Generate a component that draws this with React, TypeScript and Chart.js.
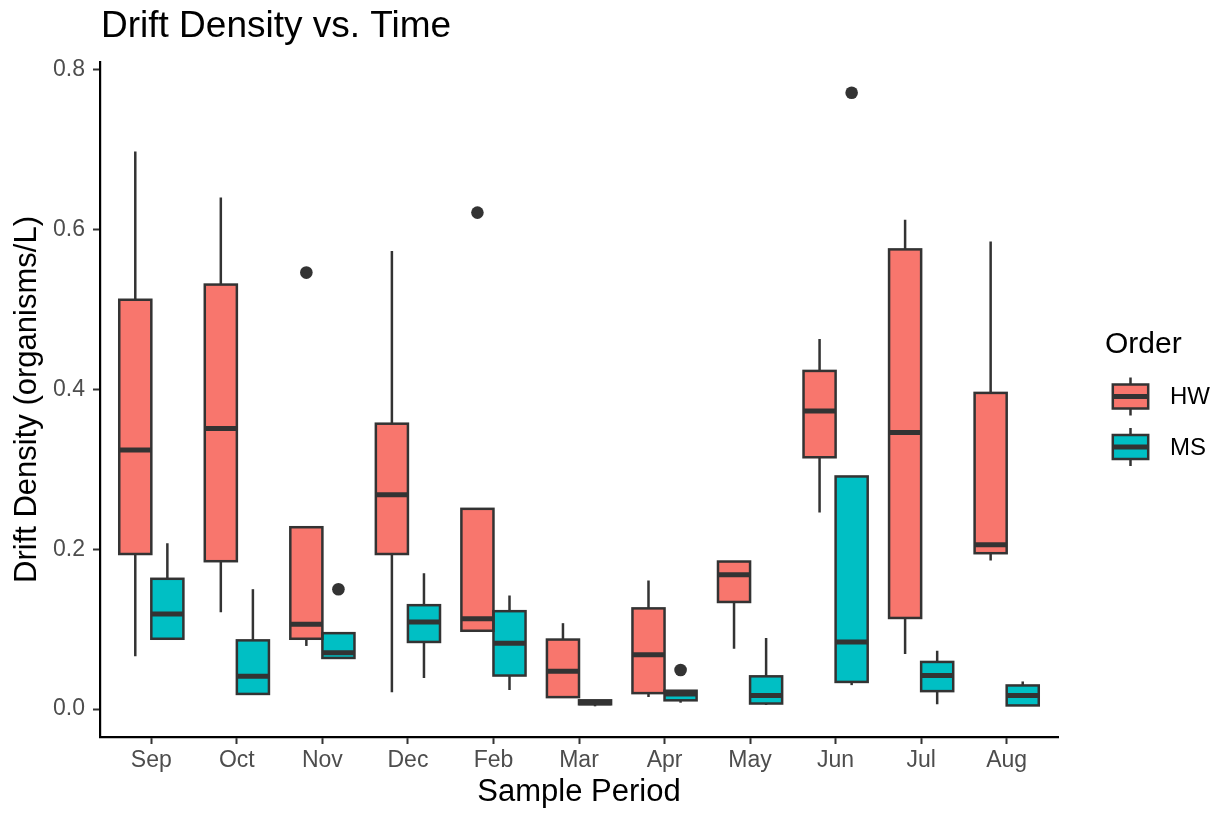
import React, { useEffect, useRef } from 'react';
import { Chart, registerables } from 'chart.js';

Chart.register(...registerables);

// ---------------- data ----------------
const MONTHS = ['Sep', 'Oct', 'Nov', 'Dec', 'Feb', 'Mar', 'Apr', 'May', 'Jun', 'Jul', 'Aug'];

const HW_MIN = [0.066, 0.121, 0.079, 0.021, 0.098, 0.015, 0.015, 0.0755, 0.246, 0.069, 0.186];
const HW_Q1 = [0.194, 0.185, 0.088, 0.194, 0.098, 0.015, 0.02, 0.134, 0.315, 0.114, 0.195];
const HW_MED = [0.324, 0.351, 0.106, 0.268, 0.113, 0.0475, 0.068, 0.168, 0.373, 0.346, 0.2055];
const HW_Q3 = [0.512, 0.531, 0.2275, 0.357, 0.2505, 0.087, 0.126, 0.1846, 0.423, 0.575, 0.3955];
const HW_MAX = [0.6975, 0.64, 0.2275, 0.573, 0.2505, 0.1075, 0.161, 0.1846, 0.463, 0.612, 0.585];
const HW_OUT: number[][] = [[], [], [0.546], [], [0.621], [], [], [], [], [], []];

const MS_MIN = [0.087, 0.019, 0.064, 0.039, 0.024, 0.0035, 0.008, 0.005, 0.03, 0.006, 0.0046];
const MS_Q1 = [0.088, 0.019, 0.064, 0.084, 0.042, 0.006, 0.011, 0.007, 0.034, 0.0225, 0.0046];
const MS_MED = [0.119, 0.041, 0.0705, 0.109, 0.0825, 0.008, 0.019, 0.017, 0.084, 0.042, 0.017];
const MS_Q3 = [0.163, 0.086, 0.095, 0.13, 0.1225, 0.011, 0.023, 0.041, 0.291, 0.059, 0.0296];
const MS_MAX = [0.2075, 0.15, 0.095, 0.17, 0.142, 0.011, 0.023, 0.089, 0.291, 0.073, 0.0346];
const MS_OUT: number[][] = [[], [], [0.15], [], [], [], [0.049], [], [0.771], [], []];

const Y_TICKS = [0, 0.2, 0.4, 0.6, 0.8];

const SERIES_LABELS = ['HW', 'MS'];
const SERIES_COLORS = ['#F8766D', '#00BFC4'];

// ---------------- styling ----------------
const FONT = "'Liberation Sans', Arial, Helvetica, sans-serif";
const LINE = '#333333';
const BOX_LW = 2.5;
const MED_LW = 5;
const OUT_R = 6.3;
const X_EXPAND = 0.6;
const Y_EXPAND = 0.05;

const SERIES = [
  { label: SERIES_LABELS[0], color: SERIES_COLORS[0], min: HW_MIN, q1: HW_Q1, med: HW_MED, q3: HW_Q3, max: HW_MAX, out: HW_OUT },
  { label: SERIES_LABELS[1], color: SERIES_COLORS[1], min: MS_MIN, q1: MS_Q1, med: MS_MED, q3: MS_Q3, max: MS_MAX, out: MS_OUT },
];

const allValues = SERIES.flatMap((s) => [...s.min, ...s.max, ...s.out.flat()]);
const LO = Math.min(...allValues);
const HI = Math.max(...allValues);
const Y_MIN = LO - (HI - LO) * Y_EXPAND;
const Y_MAX = HI + (HI - LO) * Y_EXPAND;

const boxPlugin = {
  id: 'boxExtras',
  beforeDatasetsDraw(chart: any) {
    const ctx = chart.ctx;
    const ys = chart.scales.y;
    ctx.save();
    ctx.strokeStyle = LINE;
    ctx.lineWidth = BOX_LW;
    SERIES.forEach((s, d) => {
      const meta = chart.getDatasetMeta(d);
      meta.data.forEach((el: any, i: number) => {
        const { x } = el.getProps(['x'], true);
        ctx.beginPath();
        ctx.moveTo(x, ys.getPixelForValue(s.q3[i]));
        ctx.lineTo(x, ys.getPixelForValue(s.max[i]));
        ctx.moveTo(x, ys.getPixelForValue(s.q1[i]));
        ctx.lineTo(x, ys.getPixelForValue(s.min[i]));
        ctx.stroke();
      });
    });
    ctx.restore();
  },
  afterDatasetsDraw(chart: any) {
    const ctx = chart.ctx;
    const ys = chart.scales.y;
    ctx.save();
    SERIES.forEach((s, d) => {
      const meta = chart.getDatasetMeta(d);
      meta.data.forEach((el: any, i: number) => {
        const { x, width } = el.getProps(['x', 'width'], true);
        const yTop = ys.getPixelForValue(s.q3[i]);
        const yBot = ys.getPixelForValue(s.q1[i]);
        ctx.strokeStyle = LINE;
        ctx.lineWidth = BOX_LW;
        ctx.strokeRect(x - width / 2, yTop, width, yBot - yTop);
        const ym = ys.getPixelForValue(s.med[i]);
        ctx.lineWidth = MED_LW;
        ctx.beginPath();
        ctx.moveTo(x - width / 2, ym);
        ctx.lineTo(x + width / 2, ym);
        ctx.stroke();
        ctx.fillStyle = LINE;
        s.out[i].forEach((v) => {
          ctx.beginPath();
          ctx.arc(x, ys.getPixelForValue(v), OUT_R, 0, Math.PI * 2);
          ctx.fill();
        });
      });
    });
    ctx.restore();
  },
  afterDraw(chart: any) {
    const ctx = chart.ctx;
    const area = chart.chartArea;
    ctx.save();
    // title
    ctx.fillStyle = '#000000';
    ctx.font = `37px ${FONT}`;
    ctx.textAlign = 'left';
    ctx.textBaseline = 'alphabetic';
    ctx.fillText('Drift Density vs. Time', area.left + 1, 37);

    // legend
    const lx = area.right + 47;
    ctx.font = `30px ${FONT}`;
    ctx.fillText('Order', lx, 353);
    const keyCx = lx + 25.5;
    SERIES.forEach((s, k) => {
      const cy = 396.5 + k * 50.5;
      ctx.strokeStyle = LINE;
      ctx.lineWidth = BOX_LW;
      ctx.beginPath();
      ctx.moveTo(keyCx, cy - 19);
      ctx.lineTo(keyCx, cy + 19);
      ctx.stroke();
      ctx.fillStyle = s.color;
      ctx.fillRect(keyCx - 17.7, cy - 12, 35.4, 24);
      ctx.strokeRect(keyCx - 17.7, cy - 12, 35.4, 24);
      ctx.lineWidth = MED_LW;
      ctx.beginPath();
      ctx.moveTo(keyCx - 17.7, cy);
      ctx.lineTo(keyCx + 17.7, cy);
      ctx.stroke();
      ctx.fillStyle = '#000000';
      ctx.font = `24px ${FONT}`;
      ctx.textBaseline = 'middle';
      ctx.fillText(s.label, lx + 65, cy + 1);
      ctx.textBaseline = 'alphabetic';
    });
    ctx.restore();
  },
};

export default function App() {
  const ref = useRef<HTMLCanvasElement | null>(null);

  useEffect(() => {
    if (!ref.current) return;
    Chart.defaults.font.family = FONT;
    const chart = new Chart(ref.current, {
      type: 'bar',
      data: {
        datasets: SERIES.map((s) => ({
          label: s.label,
          data: MONTHS.map((_, i) => ({ x: i + 1, y: [s.q1[i], s.q3[i]] })) as any,
          backgroundColor: s.color,
          borderWidth: 0,
          categoryPercentage: 0.75,
          barPercentage: 1,
        })),
      },
      options: {
        responsive: false,
        animation: false,
        devicePixelRatio: 1,
        layout: { padding: { top: 62, right: 164, bottom: 0, left: 0 } },
        plugins: {
          legend: { display: false },
          tooltip: { enabled: false },
          title: { display: false },
        },
        scales: {
          x: {
            type: 'linear',
            offset: false,
            min: 1 - X_EXPAND,
            max: MONTHS.length + X_EXPAND,
            afterBuildTicks: (s: any) => {
              s.ticks = MONTHS.map((_, i) => ({ value: i + 1 }));
            },
            afterFit: (s: any) => {
              s.height = 76;
            },
            ticks: {
              callback: (v: any) => MONTHS[Math.round(Number(v)) - 1] ?? '',
              color: '#4D4D4D',
              font: { size: 23, family: FONT },
              padding: 3,
              autoSkip: false,
              maxRotation: 0,
              minRotation: 0,
            },
            grid: {
              display: true,
              offset: false,
              drawOnChartArea: false,
              drawTicks: true,
              tickLength: 7,
              tickWidth: 2,
              tickColor: LINE,
            },
            border: { display: true, color: '#000000', width: 2.2 },
            title: {
              display: true,
              text: 'Sample Period',
              color: '#000000',
              font: { size: 31, family: FONT },
              padding: { top: 0, bottom: 2 },
            },
          } as any,
          y: {
            type: 'linear',
            min: Y_MIN,
            max: Y_MAX,
            afterBuildTicks: (s: any) => {
              s.ticks = Y_TICKS.map((v) => ({ value: v }));
            },
            afterFit: (s: any) => {
              s.width = 100;
            },
            ticks: {
              callback: (v: any) => Number(v).toFixed(1),
              color: '#4D4D4D',
              font: { size: 23, family: FONT },
              padding: 8,
            },
            grid: {
              display: true,
              drawOnChartArea: false,
              drawTicks: true,
              tickLength: 7,
              tickWidth: 2,
              tickColor: LINE,
            },
            border: { display: true, color: '#000000', width: 2.2 },
            title: {
              display: true,
              text: 'Drift Density (organisms/L)',
              color: '#000000',
              font: { size: 31, family: FONT },
              padding: { top: 9, bottom: 0 },
            },
          } as any,
        },
      },
      plugins: [boxPlugin],
    });
    return () => chart.destroy();
  }, []);

  return (
    <div style={{ position: 'absolute', left: 0, top: 0, width: 1222, height: 813, background: '#ffffff' }}>
      <canvas ref={ref} width={1222} height={813} style={{ width: 1222, height: 813, display: 'block' }} />
    </div>
  );
}
